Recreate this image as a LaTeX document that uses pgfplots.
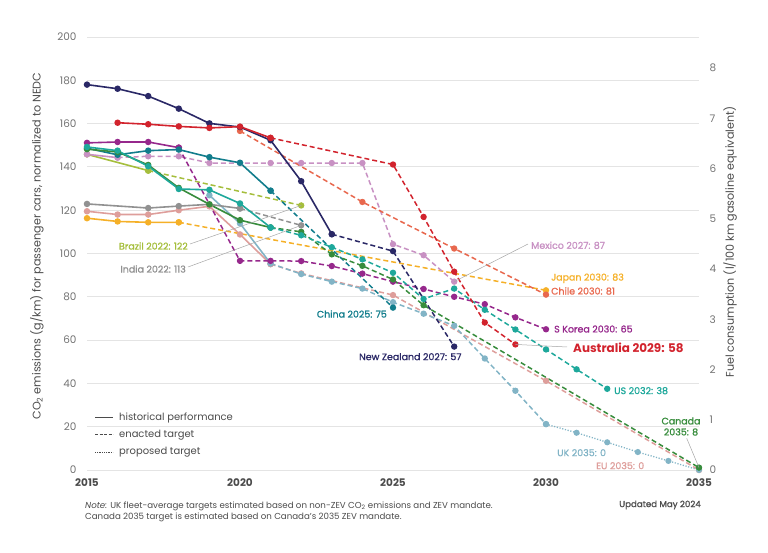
\documentclass[border=0pt]{standalone}
\usepackage{fontspec}
\setmainfont{Poppins}
\newfontfamily\medfont{Poppins}[FakeBold=1.1]
\usepackage{pgfplots}
\pgfplotsset{compat=1.18}
\definecolor{cNZ}{RGB}{42,40,102}
\definecolor{cAU}{RGB}{210,35,45}
\definecolor{cCL}{RGB}{232,104,78}
\definecolor{cJP}{RGB}{245,176,40}
\definecolor{cMX}{RGB}{200,145,195}
\definecolor{cKR}{RGB}{150,40,140}
\definecolor{cCA}{RGB}{55,140,60}
\definecolor{cUS}{RGB}{30,168,155}
\definecolor{cCN}{RGB}{18,125,140}
\definecolor{cUK}{RGB}{130,180,198}
\definecolor{cEU}{RGB}{222,158,155}
\definecolor{cBR}{RGB}{165,190,60}
\definecolor{cIN}{RGB}{145,145,145}
\definecolor{txt}{RGB}{75,75,75}
\definecolor{tck}{RGB}{115,115,115}
\definecolor{grd}{RGB}{228,228,228}
\pgfplotsset{
  hist/.style={solid, line width=1.6bp, mark=*, mark size=2.4bp, mark options={solid}},
  enac/.style={dash pattern=on 5bp off 3bp, line width=1.5bp, mark=*, mark size=2.4bp, mark options={solid}},
  prop/.style={dash pattern=on 1.2bp off 1.6bp, line width=1.3bp, mark=*, mark size=2.4bp, mark options={solid}},
}
\newcommand{\lab}{\fontsize{9.5}{11}\selectfont\medfont}
\begin{document}
\begin{tikzpicture}
\useasboundingbox (-87bp,-83bp) rectangle (681bp,470bp);
\begin{axis}[
  at={(0,0)}, anchor=south west, scale only axis, width=612bp, height=433bp,
  xmin=2015, xmax=2035, ymin=0, ymax=200, clip=false,
  axis line style={draw=none}, tick style={draw=none},
  ymajorgrids, grid style={grd, line width=0.8bp},
  xtick={2015,2020,2025,2030,2035}, ytick={0,20,...,200},
  /pgf/number format/1000 sep={}, /pgf/number format/assume math mode=true,
  xticklabel style={font=\fontsize{10.5}{12}\selectfont\bfseries, text=txt, yshift=-5bp},
  yticklabel style={font=\fontsize{10.5}{12}\selectfont, text=tck, xshift=-7bp},
]
% EU
\addplot[hist, cEU] coordinates {(2015,119.5)(2016,118)(2017,118)(2018,120)(2019,121.8)(2020,108.8)(2021,95.1)};
\addplot[enac, cEU] coordinates {(2021,95.1)(2022,90.8)(2025,80.8)(2030,41.2)(2035,0)};
% UK
\addplot[hist, cUK] coordinates {(2019,126.9)(2020,113.9)(2021,95.4)};
\addplot[enac, cUK] coordinates {(2021,95.4)(2022,90.5)(2023,87)(2024,83.8)(2025,77.5)(2026,72.2)(2027,66.6)(2028,51.5)(2029,36.6)(2030,21.2)};
\addplot[prop, cUK] coordinates {(2030,21.2)(2031,17.2)(2032,12.8)(2033,8.3)(2034,4.2)(2035,0)};
% India
\addplot[hist, cIN] coordinates {(2015,122.9)(2017,121)(2018,121.9)(2019,122.7)(2020,120.8)};
\addplot[enac, cIN] coordinates {(2020,120.8)(2022,113)};
% Japan
\addplot[hist, cJP] coordinates {(2015,116.3)(2016,114.8)(2017,114.4)(2018,114.4)};
\addplot[enac, cJP] coordinates {(2018,114.4)(2030,83)};
% Brazil
\addplot[hist, cBR] coordinates {(2015,145.8)(2017,138.3)};
\addplot[enac, cBR] coordinates {(2017,138.3)(2022,122.2)};
% Mexico
\addplot[hist, cMX] coordinates {(2015,145.8)(2016,144.3)};
\addplot[enac, cMX] coordinates {(2016,144.3)(2017,144.9)(2018,144.9)(2019,141.8)(2020,141.8)(2021,141.8)(2022,141.8)(2023,141.8)(2024,141.8)(2025,104.3)(2026,99.2)(2027,87)};
% Chile
\addplot[enac, cCL] coordinates {(2020,156.6)(2024,123.8)(2027,102.3)(2030,81)};
% S Korea
\addplot[hist, cKR] coordinates {(2015,151.1)(2016,151.5)(2017,151.5)(2018,148.9)};
\addplot[enac, cKR] coordinates {(2018,148.9)(2020,96.6)(2021,96.6)(2022,96.5)(2023,94.2)(2024,90.7)(2025,87)(2026,83.6)(2027,80)(2028,76.6)(2029,70.5)(2030,65)};
% China
\addplot[hist, cCN] coordinates {(2015,148.6)(2016,145.6)(2017,147.5)(2018,148)(2019,144.5)(2020,141.9)(2021,129)};
\addplot[enac, cCN] coordinates {(2021,129)(2025,75)};
% Canada
\addplot[hist, cCA] coordinates {(2015,148.2)(2016,146.9)(2017,140.9)(2018,130.3)(2019,122.7)(2020,115.4)(2021,112)};
\addplot[enac, cCA] coordinates {(2021,112)(2022,110)(2023,99.6)(2024,94.3)(2025,88)(2026,76.1)(2035,1.1)};
% US
\addplot[hist, cUS] coordinates {(2015,149.2)(2016,147.5)(2017,140.3)(2018,129.8)(2019,129.4)(2020,123.1)(2021,112)};
\addplot[enac, cUS] coordinates {(2021,112)(2022,108.4)(2023,102.9)(2024,97.3)(2025,91.1)(2026,79)(2027,83.8)(2028,74)(2029,64.9)(2030,55.7)(2031,46.5)(2032,37.5)};
% New Zealand
\addplot[hist, cNZ] coordinates {(2015,178)(2016,176.1)(2017,172.7)(2018,166.9)(2019,160.1)(2020,158.4)(2021,152.3)(2022,133.4)(2023,108.9)};
\addplot[enac, cNZ] coordinates {(2023,108.9)(2025,101.1)(2027,57)};
% Australia
\addplot[hist, cAU] coordinates {(2016,160.4)(2017,159.7)(2018,158.7)(2019,158)(2020,158.6)(2021,153.4)};
\addplot[enac, cAU] coordinates {(2021,153.4)(2025,141.1)(2026,116.9)(2027,91.6)(2028,68.1)(2029,58)};
\coordinate (pBR) at (axis cs:2022,122.2);
\coordinate (pIN) at (axis cs:2022,113);
\coordinate (pMX) at (axis cs:2027,87);
\coordinate (pAU) at (axis cs:2029,58);
\coordinate (pCA) at (axis cs:2035,1.1);
\end{axis}
\begin{axis}[
  at={(0,0)}, anchor=south west, scale only axis, width=612bp, height=433bp,
  xmin=2015, xmax=2035, ymin=0, ymax=8.62,
  hide x axis, axis y line*=right, axis line style={draw=none}, tick style={draw=none},
  ytick={0,1,...,8}, /pgf/number format/assume math mode=true,
  yticklabel style={font=\fontsize{10.5}{12}\selectfont, text=tck, xshift=7bp},
]
\addplot[draw=none] coordinates {(2015,0)(2035,8)};
\end{axis}
% leader lines
\draw[gray!70, line width=0.5bp] (103bp,226bp) -- (pBR);
\draw[gray!70, line width=0.5bp] (101bp,203bp) -- (pIN);
\draw[gray!70, line width=0.5bp] (441bp,226bp) -- (pMX);
\draw[gray!70, line width=0.5bp] (pAU) -- (480bp,123bp);
\draw[gray!70, line width=0.5bp] (599.7bp,31.7bp) -- (pCA);
% series labels
\node[anchor=east, text=cBR, font=\lab, inner sep=0pt] at (101bp,224bp) {Brazil 2022: 122};
\node[anchor=east, text=cIN, font=\lab, inner sep=0pt] at (99bp,201bp) {India 2022: 113};
\node[anchor=east, text=cCN, font=\lab, inner sep=0pt] at (300bp,156bp) {China 2025: 75};
\node[anchor=east, text=cNZ, font=\lab, inner sep=0pt] at (374.7bp,113.3bp) {New Zealand 2027: 57};
\node[anchor=west, text=cMX, font=\lab, inner sep=0pt] at (444bp,224.7bp) {Mexico 2027: 87};
\node[anchor=west, text=cJP, font=\lab, inner sep=0pt] at (464bp,191.7bp) {Japan 2030: 83};
\node[anchor=west, text=cCL, font=\lab, inner sep=0pt] at (464bp,179bp) {Chile 2030: 81};
\node[anchor=west, text=cKR, font=\lab, inner sep=0pt] at (467bp,141bp) {S Korea 2030: 65};
\node[anchor=west, text=cAU, font=\fontsize{12}{14}\selectfont\bfseries, inner sep=0pt] at (486bp,122.7bp) {Australia 2029: 58};
\node[anchor=west, text=cUS, font=\lab, inner sep=0pt] at (527bp,79.3bp) {US 2032: 38};
\node[align=center, text=cCA, font=\lab, inner sep=0pt] at (594bp,43.5bp) {Canada\\2035: 8};
\node[anchor=west, text=cUK, font=\lab, inner sep=0pt] at (470bp,17.3bp) {UK 2035: 0};
\node[anchor=west, text=cEU, font=\lab, inner sep=0pt] at (509bp,4.3bp) {EU 2035: 0};
% legend
\draw[txt, line width=1bp] (8bp,52bp) -- (26bp,52bp);
\draw[txt, line width=1bp, dash pattern=on 3bp off 1.5bp] (8bp,35bp) -- (26bp,35bp);
\draw[txt, line width=1bp, dash pattern=on 0.8bp off 1bp] (8bp,17.5bp) -- (26bp,17.5bp);
\node[anchor=west, text=txt, font=\fontsize{10}{12}\selectfont, inner sep=0pt] at (32bp,52bp) {historical performance};
\node[anchor=west, text=txt, font=\fontsize{10}{12}\selectfont, inner sep=0pt] at (32bp,35bp) {enacted target};
\node[anchor=west, text=txt, font=\fontsize{10}{12}\selectfont, inner sep=0pt] at (32bp,17.5bp) {proposed target};
% axis titles
\node[rotate=90, text=txt, font=\fontsize{11.2}{13}\selectfont] at (-50bp,224bp) {CO\textsubscript{2} emissions (g/km) for passenger cars, normalized to NEDC};
\node[rotate=90, text=txt, font=\fontsize{11.2}{13}\selectfont] at (643bp,228bp) {Fuel consumption (l/100 km gasoline equivalent)};
% notes
\node[anchor=west, text=txt, font=\fontsize{8.7}{10}\selectfont, inner sep=0pt] at (-2bp,-36bp) {\itshape Note:\upshape{} UK fleet-average targets estimated based on non-ZEV CO\textsubscript{2} emissions and ZEV mandate.};
\node[anchor=west, text=txt, font=\fontsize{8.7}{10}\selectfont, inner sep=0pt] at (-2bp,-47bp) {Canada 2035 target is estimated based on Canada's 2035 ZEV mandate.};
\node[anchor=east, text=txt, font=\fontsize{8.7}{10}\selectfont\medfont, inner sep=0pt] at (614bp,-35bp) {Updated May 2024};
\end{tikzpicture}
\end{document}
